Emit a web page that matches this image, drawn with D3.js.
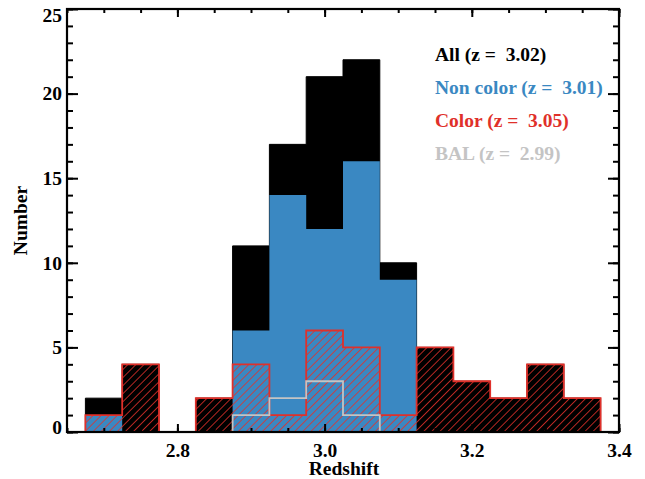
<!DOCTYPE html>
<html>
<head>
<meta charset="utf-8">
<script src="https://cdn.jsdelivr.net/npm/d3@7"></script>
<style>
body { margin: 0; background: #fff; }
text { font-family: "Liberation Serif", "Times New Roman", serif; font-weight: bold; }
</style>
</head>
<body>
<script>
// histogram bins (centres), width 0.05
const binCenters = [2.70, 2.75, 2.80, 2.85, 2.90, 2.95, 3.00, 3.05, 3.10, 3.15, 3.20, 3.25, 3.30, 3.35];
const allCounts = [2, 4, 0, 2, 11, 17, 21, 22, 10, 5, 3, 2, 4, 2];
const nonColorCounts = [1, 0, 0, 0, 6, 14, 12, 16, 9, 0, 0, 0, 0, 0];
const colorCounts = [1, 4, 0, 2, 4, 1, 6, 5, 1, 5, 3, 2, 4, 2];
const balCounts = [0, 0, 0, 0, 1, 2, 3, 1, 0, 0, 0, 0, 0, 0];
const legendLabels = ["All (z =  3.02)", "Non color (z =  3.01)", "Color (z =  3.05)", "BAL (z =  2.99)"];
const legendColors = ["#000000", "#3a88c2", "#e0302a", "#c4c4c4"];
const xMajorTicks = [2.8, 3.0, 3.2, 3.4];
const yMajorTicks = [0, 5, 10, 15, 20, 25];
const binWidth = 0.05;

const W = 645, H = 479;
const pLeft = 67, pRight = 619, pTop = 9, pBottom = 432;

const svg = d3.select("body").append("svg")
    .attr("width", W)
    .attr("height", H);

const x = d3.scaleLinear().domain([2.65, 3.4]).range([pLeft, pRight]);
const y = d3.scaleLinear().domain([0, 25]).range([pBottom, pTop]);

// step outline of a histogram
function stepPoints(counts) {
    let pts = [[binCenters[0] - binWidth / 2, 0]];
    counts.forEach((c, i) => {
        pts.push([binCenters[i] - binWidth / 2, c]);
        pts.push([binCenters[i] + binWidth / 2, c]);
    });
    pts.push([binCenters[binCenters.length - 1] + binWidth / 2, 0]);
    return pts;
}
const line = d3.line().x(d => x(d[0])).y(d => y(d[1]));

// hatch pattern for the colour sample
const defs = svg.append("defs");
const pat = defs.append("pattern")
    .attr("id", "hatch")
    .attr("patternUnits", "userSpaceOnUse")
    .attr("width", 5.7)
    .attr("height", 5.7)
    .attr("patternTransform", "rotate(45)");
pat.append("line")
    .attr("x1", 0).attr("y1", 0)
    .attr("x2", 0).attr("y2", 5.7)
    .attr("stroke", legendColors[2])
    .attr("stroke-width", 1.6);

// All
svg.append("path")
    .attr("d", line(stepPoints(allCounts)) + "Z")
    .attr("fill", "#000")
    .attr("stroke", "#000")
    .attr("stroke-width", 1);

// Non color
svg.append("path")
    .attr("d", line(stepPoints(nonColorCounts)) + "Z")
    .attr("fill", legendColors[1])
    .attr("stroke", "none");

// Color (hatched)
svg.append("path")
    .attr("d", line(stepPoints(colorCounts)) + "Z")
    .attr("fill", "url(#hatch)")
    .attr("stroke", legendColors[2])
    .attr("stroke-width", 1.8);

// BAL
svg.append("path")
    .attr("d", line(stepPoints(balCounts)))
    .attr("fill", "none")
    .attr("stroke", legendColors[3])
    .attr("stroke-width", 1.8);

// axes: ticks inward on all four sides
const xMinor = d3.range(2.65, 3.4001, 0.05).map(v => +v.toFixed(2));
const yMinor = d3.range(0, 26, 1);

svg.append("g").attr("transform", `translate(0,${pBottom})`)
    .call(d3.axisBottom(x).tickValues(xMinor).tickSize(-4).tickFormat(""));
svg.append("g").attr("transform", `translate(0,${pTop})`)
    .call(d3.axisTop(x).tickValues(xMinor).tickSize(-4).tickFormat(""));
svg.append("g").attr("transform", `translate(${pLeft},0)`)
    .call(d3.axisLeft(y).tickValues(yMinor).tickSize(-6).tickFormat(""));
svg.append("g").attr("transform", `translate(${pRight},0)`)
    .call(d3.axisRight(y).tickValues(yMinor).tickSize(-6).tickFormat(""));

svg.append("g").attr("transform", `translate(0,${pBottom})`)
    .call(d3.axisBottom(x).tickValues(xMajorTicks).tickSize(-8).tickPadding(11.5).tickFormat(d3.format(".1f")));
svg.append("g").attr("transform", `translate(0,${pTop})`)
    .call(d3.axisTop(x).tickValues(xMajorTicks).tickSize(-8).tickFormat(""));
const yAxis = svg.append("g").attr("transform", `translate(${pLeft},0)`)
    .call(d3.axisLeft(y).tickValues(yMajorTicks).tickSize(-11).tickPadding(5).tickFormat(d3.format("d")));
svg.append("g").attr("transform", `translate(${pRight},0)`)
    .call(d3.axisRight(y).tickValues(yMajorTicks).tickSize(-11).tickFormat(""));

svg.selectAll(".domain").remove();
svg.selectAll(".tick line").attr("stroke", "#000").attr("stroke-width", 2);
svg.selectAll(".tick text")
    .attr("fill", "#000")
    .style("font-size", "19.5px")
    .style("font-family", "'Liberation Serif', serif")
    .style("font-weight", "bold");

// end labels nudged inside the frame like the original
yAxis.selectAll(".tick text").attr("y", d => d === 0 ? -5 : (d === 25 ? 6 : 0));

// frame
svg.append("rect")
    .attr("x", pLeft).attr("y", pTop)
    .attr("width", pRight - pLeft).attr("height", pBottom - pTop)
    .attr("fill", "none")
    .attr("stroke", "#000")
    .attr("stroke-width", 2.2);

// axis titles
svg.append("text")
    .attr("x", (pLeft + pRight) / 2 + 1)
    .attr("y", 475)
    .attr("text-anchor", "middle")
    .style("font-size", "19.5px")
    .text("Redshift");

svg.append("text")
    .attr("transform", `translate(27,${(pTop + pBottom) / 2}) rotate(-90)`)
    .attr("text-anchor", "middle")
    .style("font-size", "19.5px")
    .text("Number");

// legend
legendLabels.forEach((t, i) => {
    svg.append("text")
        .attr("x", 435)
        .attr("y", 61 + i * 33)
        .attr("fill", legendColors[i])
        .style("font-size", "19.5px")
        .style("white-space", "pre")
        .text(t);
});
</script>
</body>
</html>
